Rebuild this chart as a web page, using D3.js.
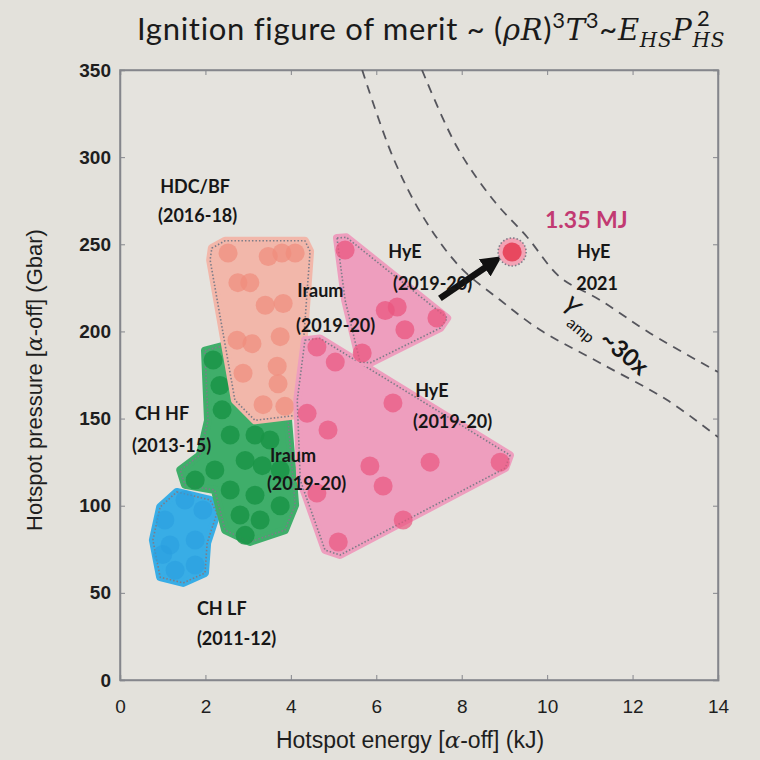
<!DOCTYPE html>
<html>
<head>
<meta charset="utf-8">
<script src="https://cdn.jsdelivr.net/npm/d3@7"></script>
<style>
  html, body { margin: 0; padding: 0; background: #e3e1db; }
  #chart svg { display: block; }
</style>
</head>
<body>
<div id="chart"></div>
<script>
// Axis ticks
const xTicks = [0, 2, 4, 6, 8, 10, 12, 14];
const yTicks = [0, 50, 100, 150, 200, 250, 300, 350];

// Campaign regions: hull outline [energy kJ, pressure Gbar] and shots
const chLfHull = [[1.33,107.9],[2.11,103.3],[2.27,95.8],[2.04,78.6],[1.99,61.4],[1.48,55.7],[0.94,59],[0.77,80.3],[0.94,99.3]];
const chLfShots = [[1.05,91.8],[1.52,103.3],[1.94,97.5],[1.17,77.5],[1.76,80.3],[1.29,63],[1.76,66],[1.0,72]];

const chHfHull = [[1.99,189],[2.46,192],[2.81,160.6],[3.93,150.3],[4.10,100.4],[3.86,86],[3.04,79.2],[2.46,86],[2.22,109],[1.52,112],[1.41,120.5],[1.87,129],[2.06,149]];
const chHfShots = [[2.18,183.6],[2.34,169],[2.39,155],[2.58,140.6],[3.16,140.6],[3.51,137.7],[2.93,126],[3.33,123],[3.75,120.5],[2.22,120.5],[1.76,114.7],[2.58,109],[3.16,106],[3.75,100],[2.81,94.7],[3.28,91.8],[2.93,83]];

const hdcHull = [[2.15,247.8],[2.46,252],[4.33,252],[4.45,246],[4.17,152],[3.16,149],[2.69,160.6],[2.11,241]];
const hdcShots = [[2.53,245],[2.76,228],[3.04,228],[3.47,243],[3.79,245],[4.10,245],[3.40,215],[3.82,216],[2.74,195],[3.09,193],[3.75,197],[2.88,176],[3.68,180],[3.70,170],[3.35,158],[3.86,157]];

const hyeUpperHull = [[5.08,253.6],[5.30,254],[7.66,207.7],[7.50,202],[5.86,182],[5.62,182.4],[5.27,218]];
const hyeUpperShots = [[5.27,246.7],[6.49,214],[6.21,212],[6.67,201],[7.42,207.7],[5.67,187.6]];

const hyeLowerHull = [[4.33,195],[4.68,196],[9.13,129],[9.02,121.6],[5.15,71.7],[4.80,74.6],[4.22,114.7],[4.15,160.6]];
const hyeLowerShots = [[4.61,191],[5.04,182.4],[4.38,153],[4.87,143.4],[6.39,159],[7.26,125],[8.90,125],[5.85,122.8],[6.16,111.3],[4.61,107.3],[6.63,91.8],[5.11,79.2]];

const hye2021Shot = [9.18, 245.6];
const arrowFromTo = [[7.49, 219], [8.74, 239.8]];

// Dashed guide curves
const guideInner = [[5.67,350],[6.39,300],[7.10,265.6],[7.96,237],[8.90,218],[9.84,200.8],[11.24,181.9],[12.81,160.6],[14.0,139.4]];
const guideOuter = [[7.07,350],[7.89,305.8],[8.74,275.4],[9.53,254.2],[10.30,231.2],[11.24,218],[12.41,199],[14.0,176.7]];

// Text annotations [energy, pressure, text]
const labels = [
  [0.94, 279.4, "HDC/BF"], [0.89, 262.8, "(2016-18)"],
  [0.35, 149, "CH HF"], [0.28, 130.8, "(2013-15)"],
  [1.80, 37.3, "CH LF"], [1.80, 20, "(2011-12)"],
  [4.15, 219.7, "Iraum"], [4.12, 199.7, "(2019-20)"],
  [3.51, 125, "Iraum"], [3.44, 109, "(2019-20)"],
  [6.28, 242, "HyE"], [6.39, 223.7, "(2019-20)"],
  [6.91, 162.4, "HyE"], [6.86, 144.6, "(2019-20)"],
  [10.70, 242, "HyE"], [10.68, 223.7, "2021"]
];

const W = 760, H = 760;
const x = d3.scaleLinear().domain([0, 14]).range([120, 718]);
const y = d3.scaleLinear().domain([0, 350]).range([680, 70]);

const svg = d3.select("#chart").append("svg").attr("width", W).attr("height", H);

svg.append("rect").attr("width", W).attr("height", H).attr("fill", "#e3e1db");

const defs = svg.append("defs");
defs.append("clipPath").attr("id", "plot-clip")
  .append("rect").attr("x", x(0)).attr("y", y(350))
  .attr("width", x(14) - x(0)).attr("height", y(0) - y(350));

defs.append("marker")
  .attr("id", "arrow-head")
  .attr("viewBox", "0 0 10 10")
  .attr("refX", 5).attr("refY", 5)
  .attr("markerWidth", 3.2).attr("markerHeight", 3.2)
  .attr("orient", "auto")
  .append("path").attr("d", "M0,0 L10,5 L0,10 z").attr("fill", "#111");

// Title
const mathFont = "'DejaVu Serif', serif";
const title = svg.append("text")
  .attr("x", 137).attr("y", 40)
  .attr("font-family", "Lato, 'Open Sans', sans-serif")
  .attr("font-size", 31)
  .attr("letter-spacing", 0.7)
  .attr("fill", "#1a1a1a");
title.append("tspan").text("Ignition figure of merit ~ (");
title.append("tspan").attr("font-style", "italic").attr("font-family", mathFont).attr("font-size", 29).text("ρR");
title.append("tspan").text(")");
title.append("tspan").attr("font-size", 22).attr("dy", -12).text("3");
title.append("tspan").attr("dy", 12).attr("font-style", "italic").attr("font-family", mathFont).attr("font-size", 29).text("T");
title.append("tspan").attr("font-size", 22).attr("dy", -12).text("3");
title.append("tspan").attr("dy", 12).text("~");
title.append("tspan").attr("font-style", "italic").attr("font-family", mathFont).attr("font-size", 29).text("E");
title.append("tspan").attr("font-style", "italic").attr("font-family", mathFont).attr("font-size", 20).attr("dy", 7).text("HS");
title.append("tspan").attr("font-style", "italic").attr("font-family", mathFont).attr("font-size", 29).attr("dy", -7).text("P");
title.append("tspan").attr("font-style", "italic").attr("font-family", mathFont).attr("font-size", 20).attr("dy", 7).text("HS");
title.append("tspan").attr("font-size", 22).attr("dx", -28).attr("dy", -21).text("2");

// Frame and axes
svg.append("rect")
  .attr("x", x(0)).attr("y", y(350))
  .attr("width", x(14) - x(0)).attr("height", y(0) - y(350))
  .attr("fill", "#e5e3de").attr("stroke", "#85868c").attr("stroke-width", 1.5);

const gx = svg.append("g").attr("transform", `translate(0,${y(0)})`)
  .call(d3.axisBottom(x).tickValues(xTicks).tickSize(-5).tickPadding(20).tickFormat(d3.format("d")));
const gxTop = svg.append("g").attr("transform", `translate(0,${y(350)})`)
  .call(d3.axisTop(x).tickValues(xTicks).tickSize(-5).tickFormat(""));
const gy = svg.append("g").attr("transform", `translate(${x(0)},0)`)
  .call(d3.axisLeft(y).tickValues(yTicks).tickSize(-5).tickPadding(9));
const gyRight = svg.append("g").attr("transform", `translate(${x(14)},0)`)
  .call(d3.axisRight(y).tickValues(yTicks).tickSize(-5).tickFormat(""));

[gx, gxTop, gy, gyRight].forEach(g => {
  g.select(".domain").attr("stroke", "#85868c").attr("stroke-width", 1.5);
  g.selectAll(".tick line").attr("stroke", "#85868c");
});
gx.selectAll(".tick text")
  .attr("font-family", "'Liberation Sans', Arial, sans-serif")
  .attr("font-size", 19).attr("fill", "#1e1e1e");
gy.selectAll(".tick text")
  .attr("font-family", "'Liberation Sans', Arial, sans-serif")
  .attr("font-weight", "bold").attr("font-size", 19).attr("fill", "#1e1e1e");

// Axis titles
const xTitle = svg.append("text")
  .attr("x", 410).attr("y", 748).attr("text-anchor", "middle")
  .attr("font-family", "'Liberation Sans', Arial, sans-serif")
  .attr("font-size", 23).attr("fill", "#1e1e1e");
xTitle.append("tspan").text("Hotspot energy [");
xTitle.append("tspan").attr("font-family", "'DejaVu Serif', serif").attr("font-style", "italic").text("α");
xTitle.append("tspan").text("-off] (kJ)");

const yTitle = svg.append("text")
  .attr("transform", `translate(42,${(y(0) + y(350)) / 2 + 5}) rotate(-90)`)
  .attr("text-anchor", "middle")
  .attr("font-family", "'Liberation Sans', Arial, sans-serif")
  .attr("font-size", 22).attr("fill", "#1e1e1e");
yTitle.append("tspan").text("Hotspot pressure [");
yTitle.append("tspan").attr("font-family", "'DejaVu Serif', serif").attr("font-style", "italic").text("α");
yTitle.append("tspan").text("-off] (Gbar)");

// Plot content
const plot = svg.append("g").attr("clip-path", "url(#plot-clip)");
const hullLine = d3.line().x(d => x(d[0])).y(d => y(d[1])).curve(d3.curveLinearClosed);

function drawRegion(hull, shots, fill, dot, dotOpacity) {
  plot.append("path")
    .attr("d", hullLine(hull))
    .attr("fill", fill)
    .attr("stroke", fill)
    .attr("stroke-width", 8)
    .attr("stroke-linejoin", "round");
  plot.append("path")
    .attr("d", hullLine(hull))
    .attr("fill", "none")
    .attr("stroke", "#7d7c88")
    .attr("stroke-width", 1.6)
    .attr("stroke-dasharray", "1.5,2")
    .attr("stroke-linejoin", "round");
  plot.append("g").selectAll("circle")
    .data(shots)
    .join("circle")
    .attr("cx", d => x(d[0]))
    .attr("cy", d => y(d[1]))
    .attr("r", 9.5)
    .attr("fill", dot)
    .attr("fill-opacity", dotOpacity);
}

drawRegion(chLfHull, chLfShots, "#38ade6", "#2a9fe0", 0.6);
drawRegion(chHfHull, chHfShots, "#3fae6a", "#1a9447", 0.85);
drawRegion(hdcHull, hdcShots, "#f2b7aa", "#ef8c7c", 0.7);
drawRegion(hyeLowerHull, hyeLowerShots, "#ee9ebe", "#e9567f", 0.7);
drawRegion(hyeUpperHull, hyeUpperShots, "#ee9ebe", "#e9567f", 0.75);

// Guide curves
const guideLine = d3.line().x(d => x(d[0])).y(d => y(d[1])).curve(d3.curveCatmullRom);
[guideInner, guideOuter].forEach(g => {
  plot.append("path")
    .attr("d", guideLine(g))
    .attr("fill", "none")
    .attr("stroke", "#55555c")
    .attr("stroke-width", 1.8)
    .attr("stroke-dasharray", "9,7");
});

// Arrow
plot.append("line")
  .attr("x1", x(arrowFromTo[0][0])).attr("y1", y(arrowFromTo[0][1]))
  .attr("x2", x(arrowFromTo[1][0])).attr("y2", y(arrowFromTo[1][1]))
  .attr("stroke", "#111").attr("stroke-width", 6.5)
  .attr("marker-end", "url(#arrow-head)");

// HyE 2021 shot
plot.append("circle")
  .attr("cx", x(hye2021Shot[0])).attr("cy", y(hye2021Shot[1]))
  .attr("r", 14).attr("fill", "#f3a3b5")
  .attr("stroke", "#7d7c88").attr("stroke-width", 1.6).attr("stroke-dasharray", "1.5,2");
plot.append("circle")
  .attr("cx", x(hye2021Shot[0])).attr("cy", y(hye2021Shot[1]))
  .attr("r", 9.5).attr("fill", "#e8485f");

// Region labels
svg.append("g").selectAll("text")
  .data(labels)
  .join("text")
  .attr("x", d => x(d[0]))
  .attr("y", d => y(d[1]))
  .attr("font-family", "Lato, 'Open Sans', sans-serif")
  .attr("font-weight", "bold")
  .attr("font-size", 18)
  .attr("fill", "#161616")
  .text(d => d[2]);

svg.append("text")
  .attr("x", x(9.95)).attr("y", y(259.3))
  .attr("font-family", "Lato, 'Open Sans', sans-serif")
  .attr("font-weight", "bold")
  .attr("font-size", 23)
  .attr("fill", "#c23a72")
  .text("1.35 MJ");

const yamp = svg.append("text")
  .attr("transform", `translate(${x(10.28)},${y(213)}) rotate(40)`)
  .attr("font-family", "Lato, 'Open Sans', sans-serif")
  .attr("font-weight", "bold")
  .attr("font-size", 24)
  .attr("fill", "#161616");
yamp.append("tspan").attr("font-style", "italic").attr("font-weight", "normal").attr("font-size", 26).text("Y");
yamp.append("tspan").attr("font-size", 16).attr("font-weight", "normal").attr("dy", 8).text("amp");
yamp.append("tspan").attr("dy", -8).attr("dx", 6).text("~30x");
</script>
</body>
</html>
